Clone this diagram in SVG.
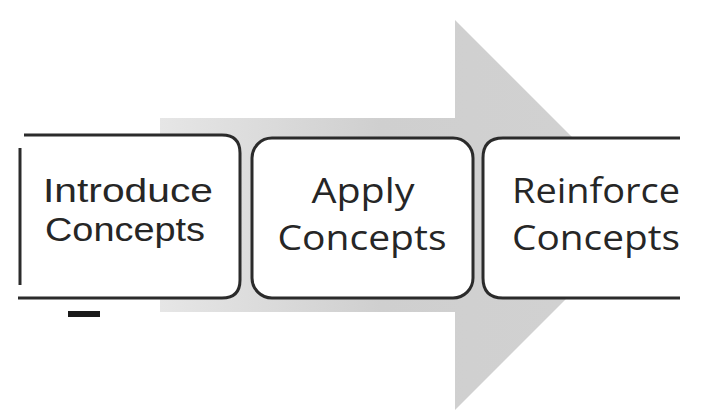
<svg xmlns="http://www.w3.org/2000/svg" width="703" height="412" viewBox="0 0 703 412">
  <defs>
    <linearGradient id="arrowFill" x1="0" y1="0" x2="1" y2="0">
      <stop offset="0" stop-color="#e6e6e6"/>
      <stop offset="0.45" stop-color="#cfcfcf"/>
      <stop offset="1" stop-color="#d2d2d2"/>
    </linearGradient>
    <style>
      .box { fill: #ffffff; stroke: #2b2b2b; stroke-width: 3; }
      .panel { fill: #ffffff; stroke: none; }
      .edge { fill: none; stroke: #2b2b2b; stroke-width: 3; }
      .lbl { fill: #262626; font-size: 34px; text-anchor: middle; }
      .arial { font-family: "Liberation Sans", Arial, sans-serif; }
      .humanist { font-family: "Open Sans", "Noto Sans", sans-serif; }
    </style>
  </defs>

  <rect width="703" height="412" fill="#ffffff"/>

  <!-- background process arrow -->
  <g id="flow-arrow">
    <polygon points="160,118 455,118 455,20 650,215 455,410 455,312 160,312" fill="url(#arrowFill)"/>
  </g>

  <g id="node-introduce">
    <path class="panel" d="M18,135 H222 Q240,135 240,153 V280 Q240,298 222,298 H18 Z"/>
    <path class="edge" d="M24,135 H222 Q240,135 240,153 V280 Q240,298 222,298 H18"/>
    <line class="edge" x1="20" y1="148" x2="20" y2="285"/>
    <rect x="68" y="311" width="32" height="6" fill="#1a1a1a"/>
    <text class="lbl arial" x="128" y="202" textLength="170" lengthAdjust="spacingAndGlyphs">Introduce</text>
    <text class="lbl arial" x="125" y="241" textLength="160" lengthAdjust="spacingAndGlyphs">Concepts</text>
  </g>

  <g id="node-apply">
    <rect class="box" x="252" y="138" width="221" height="160" rx="20" ry="20"/>
    <text class="lbl humanist" x="363" y="203" textLength="103" lengthAdjust="spacingAndGlyphs">Apply</text>
    <text class="lbl humanist" x="362" y="250" textLength="169" lengthAdjust="spacingAndGlyphs">Concepts</text>
  </g>

  <g id="node-reinforce">
    <path class="panel" d="M680,138 H503 Q483,138 483,158 V278 Q483,298 503,298 H680 Z"/>
    <path class="edge" d="M680,138 H503 Q483,138 483,158 V278 Q483,298 503,298 H680"/>
    <text class="lbl humanist" x="596" y="203" textLength="168" lengthAdjust="spacingAndGlyphs">Reinforce</text>
    <text class="lbl humanist" x="596" y="250" textLength="168" lengthAdjust="spacingAndGlyphs">Concepts</text>
  </g>
</svg>
